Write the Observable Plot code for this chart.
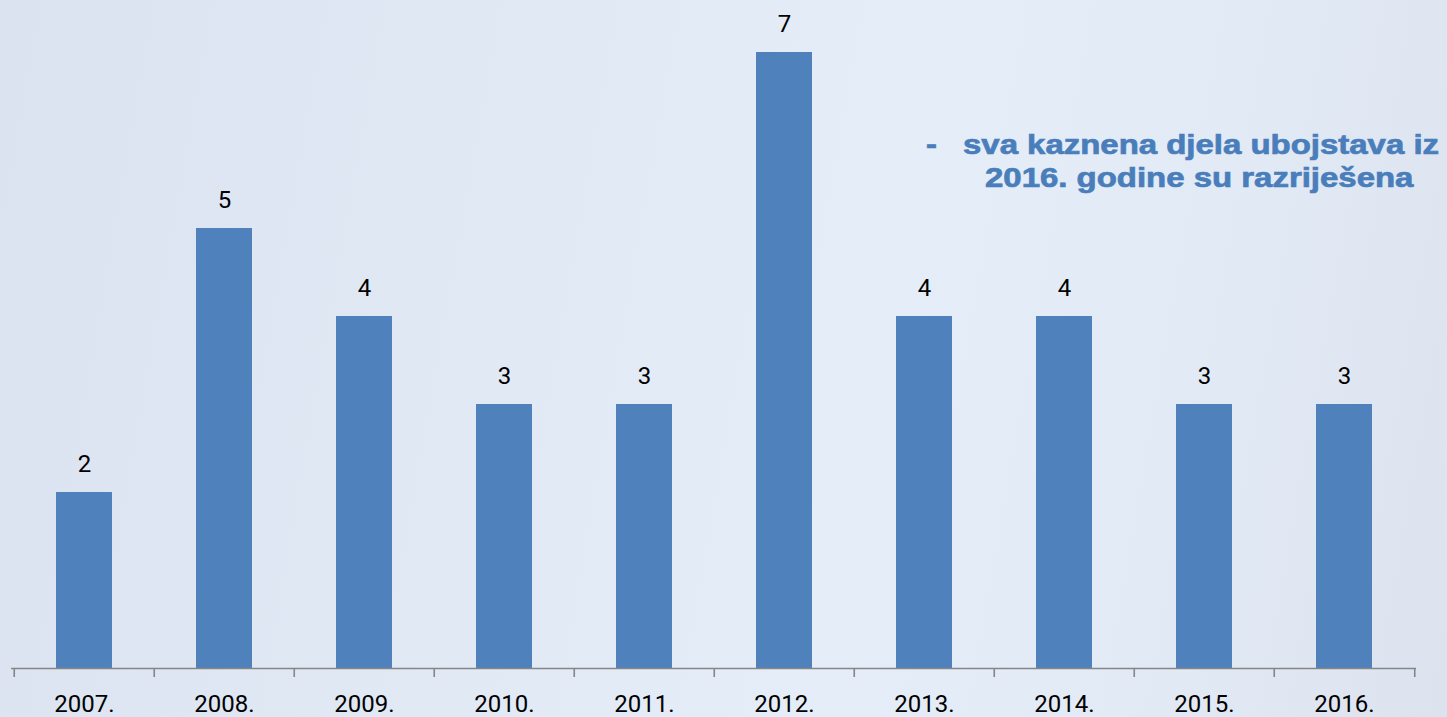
<!DOCTYPE html>
<html><head><meta charset="utf-8">
<script src="https://cdn.jsdelivr.net/npm/d3@7"></script>
<script src="https://cdn.jsdelivr.net/npm/@observablehq/plot@0.6"></script>
<style>
html,body{margin:0;padding:0;}
body{width:1447px;height:717px;overflow:hidden;position:relative;
  background:linear-gradient(100deg,#dbe3f0 0%,#e1e9f5 35%,#e5edf9 60%,#e2eaf6 80%,#dce3ee 100%);
  font-family:Roboto,"Open Sans",sans-serif;}
#chart{position:absolute;left:0;top:0;}
.note{position:absolute;color:#4a7ebb;font-family:"Liberation Sans",Arial,sans-serif;font-weight:700;font-size:27px;white-space:nowrap;line-height:1;
  transform:scaleX(1.22);transform-origin:left top;-webkit-text-stroke:0.7px #4a7ebb;}
</style>
</head><body>
<div id="chart"></div>
<div class="note" style="left:926px;top:132px;">-</div>
<div class="note" style="left:963px;top:132px;">sva kaznena djela ubojstava iz</div>
<div class="note" style="left:985px;top:165px;">2016. godine su razriješena</div>
<script>
const years = ["2007.","2008.","2009.","2010.","2011.","2012.","2013.","2014.","2015.","2016."];
const counts = [2,5,4,3,3,7,4,4,3,3];

const data = years.map((y,i)=>({year:y, value:counts[i]}));
const W = 1447, H = 717, mL = 11, mR = 31;
const step = (W - mL - mR) / years.length;

const chart = Plot.plot({
  width: W, height: H,
  marginLeft: mL, marginRight: mR, marginTop: 52, marginBottom: 49,
  style: {background: "transparent", fontFamily: "Roboto, 'Open Sans', sans-serif"},
  x: {domain: years, paddingInner: 0.6, paddingOuter: 0.3, label: null},
  y: {domain: [0, 7], axis: null},
  marks: [
    Plot.barY(data, {x: "year", y: "value", fill: "#4f81bd"}),
    Plot.ruleY([0], {stroke: "#868686", strokeWidth: 1.6}),
    Plot.ruleX(years, {x: d => d, y1: 0, y2: 0, dx: -step/2, insetBottom: -9, stroke: "#868686", strokeWidth: 1.6}),
    Plot.ruleX([years[years.length-1]], {x: d => d, y1: 0, y2: 0, dx: step/2, insetBottom: -9, stroke: "#868686", strokeWidth: 1.6}),
    Plot.text(data, {x: "year", y: "value", text: d => String(d.value), dy: -28, fontSize: 24, fill: "#000", lineAnchor: "middle"}),
    Plot.axisX({tickSize: 0, tickPadding: 26, fontSize: 24, color: "#000"})
  ]
});
document.getElementById("chart").appendChild(chart);
</script>
</body></html>
